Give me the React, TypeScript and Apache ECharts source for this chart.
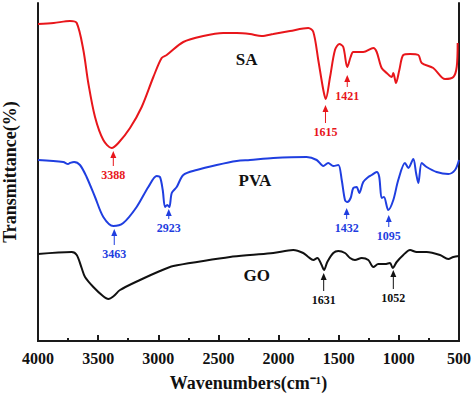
import React, { useEffect, useRef } from "react";
import * as echarts from "echarts";

// Wavenumber (cm-1) and transmittance (arbitrary units)
const saWn = [4000, 3870, 3734, 3678, 3623, 3582, 3526, 3457, 3388, 3332, 3235, 3138, 3041, 2972, 2930, 2792, 2626, 2460, 2348, 2238, 2140, 2044, 1905, 1753, 1711, 1670, 1628, 1608, 1572, 1531, 1495, 1462, 1429, 1401, 1379, 1296, 1212, 1184, 1143, 1101, 1059, 1046, 1024, 996, 963, 907, 838, 810, 714, 616, 547, 519, 511];
const saT = [317, 318, 320, 318, 291, 258, 224, 201, 193, 198, 213, 234, 264, 283, 286, 299, 305, 308, 308, 307, 305, 307, 310, 313, 309, 281, 251, 242, 264, 291, 297, 294, 274, 284, 289, 289, 293, 289, 273, 268, 264, 268, 258, 271, 286, 287, 286, 278, 273, 262, 264, 274, 298];

const pvaWn = [4000, 3790, 3750, 3734, 3700, 3651, 3596, 3526, 3457, 3374, 3291, 3180, 3083, 3013, 2986, 2963, 2944, 2925, 2908, 2888, 2847, 2792, 2681, 2514, 2348, 2238, 2044, 1767, 1683, 1628, 1587, 1545, 1503, 1475, 1448, 1429, 1401, 1379, 1351, 1329, 1296, 1254, 1226, 1184, 1163, 1143, 1124, 1088, 1046, 1005, 949, 921, 880, 857, 838, 810, 769, 686, 589, 533, 500];
const pvaT = [181, 179, 177, 178, 179, 176, 164, 144, 124, 115, 118, 134, 154, 165, 164, 151, 134, 136, 134, 148, 154, 166, 171, 176, 180, 181, 183, 184, 181, 175, 178, 175, 176, 161, 141, 139, 143, 153, 154, 148, 159, 164, 166, 169, 164, 143, 144, 131, 141, 161, 178, 173, 182, 168, 158, 178, 174, 169, 167, 171, 181];

const goWn = [4000, 3720, 3678, 3637, 3609, 3540, 3460, 3415, 3370, 3318, 3152, 2986, 2875, 2626, 2404, 2238, 2044, 1878, 1795, 1753, 1711, 1678, 1642, 1622, 1595, 1545, 1503, 1448, 1406, 1365, 1309, 1254, 1212, 1171, 1115, 1074, 1051, 1018, 963, 907, 852, 769, 658, 589, 547, 500];
const goT = [87, 89, 86, 73, 64, 54, 45, 42, 45, 51, 61, 70, 75, 80, 84, 86, 88, 91, 88, 84, 81, 83, 76, 71, 79, 88, 90, 88, 83, 81, 83, 81, 74, 77, 77, 78, 73, 79, 86, 91, 89, 89, 86, 82, 84, 85];

// Peak annotations: label, arrow wavenumber, arrow tip and tail (transmittance units), series index
const peakLabels = ["3388", "1615", "1421", "3463", "2923", "1432", "1095", "1631", "1052"];
const peakWn = [3374, 1610, 1429, 3366, 2913, 1434, 1084, 1625, 1046];
const peakTip = [190, 236, 266, 112, 132, 133, 126, 68, 71];
const peakTail = [175, 218, 254, 96, 122, 122, 114, 50, 52];
const peakSeries = [0, 0, 0, 1, 1, 1, 1, 2, 2];

// Curve names
const curveNames = ["SA", "PVA", "GO"];
const curveNameWn = [2265, 2196, 2182];
const curveNameT = [282, 161, 66];

const xRange = [500, 4000];

const colors = ["#e8161b", "#1f3ee0", "#111111"];
const FONT = '"Liberation Serif", "Times New Roman", serif';
const AXC = "#1a1a1a";

const zip = (a: number[], b: number[]) => a.map((v, i) => [v, b[i]]);

export default function App() {
  const ref = useRef<HTMLDivElement>(null);
  useEffect(() => {
    if (!ref.current) return;
    const chart = echarts.init(ref.current, null, { renderer: "svg" });
    const curves = [zip(saWn, saT), zip(pvaWn, pvaT), zip(goWn, goT)];
    const frame = { show: true, lineStyle: { color: AXC, width: 2 } };
    chart.setOption({
      animation: false,
      backgroundColor: "#ffffff",
      grid: {
        left: 38,
        right: 15,
        top: 3,
        bottom: 53,
        containLabel: false,
        outerBoundsMode: "none",
      },
      xAxis: [
        {
          type: "value",
          inverse: true,
          min: xRange[0],
          max: xRange[1],
          interval: 500,
          name: "Wavenumbers(cm⁻¹)",
          nameLocation: "middle",
          nameGap: 33,
          nameTextStyle: { fontFamily: FONT, fontWeight: "bold", fontSize: 18, color: "#111" },
          axisLine: frame,
          axisTick: { show: true, inside: true, length: 6, lineStyle: { color: AXC, width: 2 } },
          minorTick: { show: true, splitNumber: 2, length: 3, lineStyle: { color: AXC, width: 2 } },
          splitLine: { show: false },
          axisLabel: {
            fontFamily: FONT,
            fontWeight: "bold",
            fontSize: 16,
            color: "#111",
            margin: 9,
            formatter: (v: number) => String(v),
          },
        },
        {
          type: "value",
          position: "top",
          inverse: true,
          min: xRange[0],
          max: xRange[1],
          interval: 500,
          axisLine: frame,
          axisTick: { show: false },
          axisLabel: { show: false },
          splitLine: { show: false },
        },
      ],
      yAxis: [
        {
          type: "value",
          min: 0,
          max: 338,
          name: "Transmittance(%)",
          nameLocation: "middle",
          nameGap: 19,
          nameTextStyle: { fontFamily: FONT, fontWeight: "bold", fontSize: 18, color: "#111" },
          axisLine: frame,
          axisTick: { show: false },
          axisLabel: { show: false },
          splitLine: { show: false },
        },
        {
          type: "value",
          position: "right",
          min: 0,
          max: 338,
          axisLine: frame,
          axisTick: { show: false },
          axisLabel: { show: false },
          splitLine: { show: false },
        },
      ],
      series: [
        ...curves.map((d, i) => ({
          type: "line",
          data: d,
          showSymbol: false,
          smooth: 0.3,
          lineStyle: { color: colors[i], width: 2 },
          z: 3,
        })),
        {
          type: "custom",
          data: peakLabels.map((_, i) => [peakWn[i], peakTip[i], peakTail[i]]),
          z: 5,
          renderItem: (params: any, api: any) => {
            const i = params.dataIndex;
            const tip = api.coord([api.value(0), api.value(1)]);
            const tail = api.coord([api.value(0), api.value(2)]);
            const c = colors[peakSeries[i]];
            return {
              type: "group",
              children: [
                {
                  type: "line",
                  shape: { x1: tail[0], y1: tail[1], x2: tip[0], y2: tip[1] + 4 },
                  style: { stroke: c, lineWidth: 1 },
                },
                {
                  type: "polygon",
                  shape: { points: [[tip[0], tip[1]], [tip[0] - 3, tip[1] + 7], [tip[0] + 3, tip[1] + 7]] },
                  style: { fill: c },
                },
                {
                  type: "text",
                  x: tail[0],
                  y: tail[1] + 3,
                  style: {
                    text: peakLabels[i],
                    fill: c,
                    fontFamily: FONT,
                    fontWeight: "bold",
                    fontSize: 12,
                    textAlign: "center",
                    textVerticalAlign: "top",
                    align: "center",
                    verticalAlign: "top",
                  },
                },
              ],
            };
          },
        },
        {
          type: "custom",
          data: curveNames.map((_, i) => [curveNameWn[i], curveNameT[i]]),
          z: 5,
          renderItem: (params: any, api: any) => {
            const p = api.coord([api.value(0), api.value(1)]);
            return {
              type: "text",
              x: p[0],
              y: p[1],
              style: {
                text: curveNames[params.dataIndex],
                fill: "#111",
                fontFamily: FONT,
                fontWeight: "bold",
                fontSize: 17,
                textAlign: "center",
                textVerticalAlign: "middle",
                align: "center",
                verticalAlign: "middle",
              },
            };
          },
        },
      ],
    });
    return () => chart.dispose();
  }, []);
  return (
    <div
      ref={ref}
      style={{ position: "fixed", left: 0, top: 0, width: 474, height: 394, background: "#fff" }}
    />
  );
}
